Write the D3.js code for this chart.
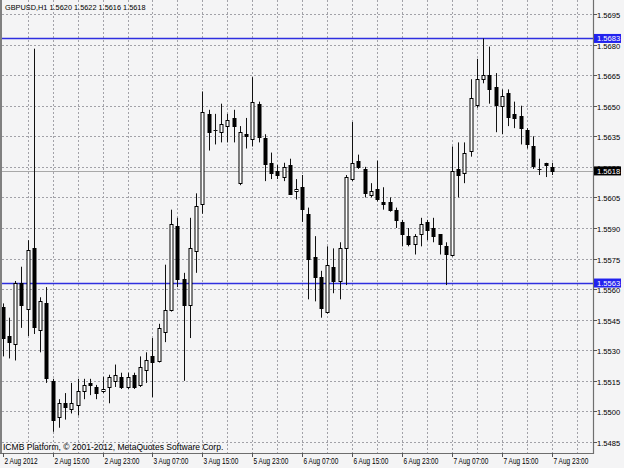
<!DOCTYPE html>
<html><head><meta charset="utf-8">
<script src="https://cdn.jsdelivr.net/npm/d3@7"></script>
<style>html,body{margin:0;padding:0;background:#f4f4f5;}svg{display:block;}</style>
</head><body>
<script>
const symbolTitle = "GBPUSD,H1  1.5620 1.5622 1.5616 1.5618";
const copyright = "ICMB Platform, © 2001-2012, MetaQuotes Software Corp.";
const opens  = [1.5551,1.5537,1.5533,1.5563,1.5550,1.5580,1.5540,1.5553,1.5515,1.5497,1.5504,1.5501,1.5503,1.5510,1.5514,1.5512,1.5510,1.5512,1.5515,1.5517,1.5512,1.5518,1.5513,1.5520,1.5527,1.5525,1.5539,1.5550,1.5591,1.5565,1.5552,1.5579,1.5602,1.5646,1.5638,1.5637,1.5640,1.5644,1.5612,1.5636,1.5634,1.5651,1.5634,1.5622,1.5618,1.5615,1.5621,1.5608,1.5610,1.5597,1.5576,1.5566,1.5549,1.5571,1.5564,1.5580,1.5614,1.5623,1.5619,1.5606,1.5609,1.5603,1.5603,1.5599,1.5593,1.5586,1.5582,1.5587,1.5593,1.5590,1.5587,1.5581,1.5577,1.5619,1.5617,1.5628,1.5650,1.5663,1.5665,1.5659,1.5650,1.5656,1.5646,1.5645,1.5638,1.5630,1.5619,1.5622,1.5620];
const highs  = [1.5553,1.5546,1.5564,1.5571,1.5584,1.5678,1.5556,1.5561,1.5516,1.5506,1.5509,1.5514,1.5516,1.5516,1.5516,1.5513,1.5517,1.5518,1.5523,1.5519,1.5519,1.5519,1.5527,1.5529,1.5536,1.5543,1.5572,1.5599,1.5595,1.5568,1.5595,1.5607,1.5657,1.5648,1.5646,1.5651,1.5646,1.5648,1.5640,1.5644,1.5664,1.5652,1.5636,1.5627,1.5621,1.5622,1.5624,1.5614,1.5616,1.5600,1.5586,1.5569,1.5581,1.5580,1.5583,1.5616,1.5642,1.5626,1.5620,1.5612,1.5623,1.5610,1.5605,1.5600,1.5594,1.5590,1.5587,1.5595,1.5594,1.5595,1.5587,1.5583,1.5630,1.5632,1.5632,1.5663,1.5673,1.5683,1.5679,1.5666,1.5658,1.5658,1.5652,1.5650,1.5639,1.5635,1.5624,1.5622,1.5622];
const lows   = [1.5527,1.5526,1.5525,1.5541,1.5537,1.5538,1.5529,1.5514,1.5490,1.5492,1.5496,1.5499,1.5498,1.5506,1.5508,1.5506,1.5509,1.5504,1.5512,1.5511,1.5511,1.5511,1.5512,1.5514,1.5507,1.5524,1.5534,1.5549,1.5561,1.5515,1.5536,1.5568,1.5597,1.5628,1.5631,1.5632,1.5632,1.5632,1.5611,1.5629,1.5630,1.5632,1.5613,1.5614,1.5614,1.5613,1.5607,1.5604,1.5593,1.5555,1.5554,1.5546,1.5548,1.5558,1.5555,1.5562,1.5613,1.5619,1.5605,1.5605,1.5603,1.5599,1.5598,1.5590,1.5581,1.5581,1.5577,1.5581,1.5584,1.5583,1.5577,1.5562,1.5576,1.5605,1.5612,1.5625,1.5649,1.5661,1.5651,1.5637,1.5636,1.5640,1.5639,1.5631,1.5629,1.5619,1.5616,1.5615,1.5616];
const closes = [1.5536,1.5534,1.5563,1.5552,1.5579,1.5541,1.5554,1.5516,1.5496,1.5504,1.5502,1.5504,1.5510,1.5513,1.5513,1.5509,1.5511,1.5517,1.5518,1.5512,1.5517,1.5512,1.5522,1.5525,1.5524,1.5541,1.5550,1.5592,1.5565,1.5552,1.5580,1.5601,1.5647,1.5637,1.5638,1.5641,1.5643,1.5640,1.5637,1.5635,1.5652,1.5635,1.5621,1.5617,1.5616,1.5620,1.5607,1.5609,1.5599,1.5575,1.5566,1.5551,1.5572,1.5564,1.5580,1.5615,1.5622,1.5620,1.5607,1.5608,1.5604,1.5602,1.5599,1.5594,1.5587,1.5582,1.5586,1.5592,1.5589,1.5586,1.5582,1.5577,1.5618,1.5616,1.5627,1.5654,1.5663,1.5665,1.5658,1.5650,1.5655,1.5644,1.5644,1.5639,1.5631,1.5620,1.5619,1.5621,1.5618];
const timeLabels = ["2 Aug 2012","2 Aug 15:00","2 Aug 23:00","3 Aug 07:00","3 Aug 15:00","5 Aug 23:00","6 Aug 07:00","6 Aug 15:00","6 Aug 23:00","7 Aug 07:00","7 Aug 15:00","7 Aug 23:00"];
const priceTicks = [1.5485,1.5500,1.5515,1.5530,1.5545,1.5560,1.5575,1.5590,1.5605,1.5620,1.5635,1.5650,1.5665,1.5680,1.5695];
const hLines = [1.5683,1.5563];
const bidPrice = 1.5618;

const W = 624, H = 468;
const left = 2, right = 593, bottom = 453;
const svg = d3.select("body").append("svg").attr("width", W).attr("height", H);
svg.append("rect").attr("width", W).attr("height", H).attr("fill", "#f4f4f5");

const n = opens.length;
const x = d3.scaleLinear().domain([0, 88]).range([2.7, 2.7 + 6.24 * 88]);
const y = d3.scaleLinear().domain([1.5485, 1.5695]).range([442, 14]);
const px = v => Math.round(v) + 0.5;

const FONT = "'Liberation Sans', Arial, sans-serif";
function txt(g, s, tx, ty, opts = {}) {
  return g.append("text").attr("transform", `translate(${tx},${ty}) scale(${opts.sx || 0.84},1)`)
    .attr("font-family", FONT).attr("font-size", opts.fs || 8).attr("fill", opts.fill || "#000")
    .attr("text-anchor", opts.anchor || "start").text(s);
}

svg.append("clipPath").attr("id", "c").append("rect")
  .attr("x", left).attr("y", 0).attr("width", right - left).attr("height", bottom);
const plot = svg.append("g").attr("clip-path", "url(#c)");

// grid
const grid = plot.append("g").attr("stroke", "#a2a2a8").attr("stroke-width", 1).attr("stroke-dasharray", "2,2");
priceTicks.forEach(p => grid.append("line").attr("x1", left).attr("x2", right).attr("y1", px(y(p))).attr("y2", px(y(p))));
d3.range(4, 96, 4).forEach(i => {
  const xx = px(x(i)); if (xx < right) grid.append("line").attr("x1", xx).attr("x2", xx).attr("y1", 0).attr("y2", bottom);
});

// horizontal lines
plot.append("line").attr("x1", left).attr("x2", right).attr("y1", px(y(bidPrice))).attr("y2", px(y(bidPrice)))
  .attr("stroke", "#a8a8a8").attr("stroke-width", 1);
hLines.forEach(p => plot.append("line").attr("x1", left).attr("x2", right).attr("y1", px(y(p))).attr("y2", px(y(p)))
  .attr("stroke", "#2f2fe0").attr("stroke-width", 1.3));

// candles
const cg = plot.append("g");
for (let i = 0; i < n; i++) {
  const cx = px(x(i));
  cg.append("line").attr("x1", cx).attr("x2", cx).attr("y1", y(highs[i])).attr("y2", y(lows[i]))
    .attr("stroke", "#111").attr("stroke-width", 1);
  const top = Math.min(y(opens[i]), y(closes[i])), bot = Math.max(y(opens[i]), y(closes[i]));
  const bull = closes[i] >= opens[i];
  if (bot - top < 1) {
    cg.append("line").attr("x1", cx - 2).attr("x2", cx + 2).attr("y1", px(top)).attr("y2", px(top)).attr("stroke", "#111");
  } else {
    cg.append("rect").attr("x", cx - 1.5).attr("width", 3).attr("y", Math.round(top) + 0.5).attr("height", Math.max(1, Math.round(bot - top)))
      .attr("fill", bull ? "#ffffff" : "#000").attr("stroke", "#000").attr("stroke-width", 1);
  }
}

// frame
svg.append("line").attr("x1", 1).attr("x2", 1).attr("y1", 0).attr("y2", bottom).attr("stroke", "#808080").attr("stroke-width", 2);
svg.append("line").attr("x1", right + 0.5).attr("x2", right + 0.5).attr("y1", 0).attr("y2", bottom + 1).attr("stroke", "#6e6e6e").attr("stroke-width", 1.2);
svg.append("line").attr("x1", 0).attr("x2", right + 1).attr("y1", bottom + 0.5).attr("y2", bottom + 0.5).attr("stroke", "#6e6e6e").attr("stroke-width", 1.2);

// price axis
const ax = svg.append("g");
priceTicks.forEach(p => {
  const yy = px(y(p));
  ax.append("line").attr("x1", right).attr("x2", right + 4).attr("y1", yy).attr("y2", yy).attr("stroke", "#555");
  txt(ax, p.toFixed(4), 597, yy + 3, { sx: 0.95 });
});
function priceBox(p, fill) {
  const yy = y(p);
  ax.append("rect").attr("x", 594).attr("y", yy - 4.5).attr("width", 27).attr("height", 9).attr("fill", fill);
  txt(ax, p.toFixed(4), 597, yy + 3, { sx: 0.95, fill: "#fff" });
}
hLines.forEach(p => priceBox(p, "#2222ee"));
priceBox(bidPrice, "#000");

// time axis
timeLabels.forEach((s, k) => {
  const xx = px(x(k * 8));
  ax.append("line").attr("x1", xx).attr("x2", xx).attr("y1", bottom).attr("y2", bottom + 4).attr("stroke", "#555");
  txt(ax, s, xx + 1, 464, { sx: 0.76, fs: 8.6 });
});

// titles
txt(svg, symbolTitle, 5, 10, { sx: 0.92 });
txt(svg, copyright, 3, 450, { sx: 0.95, fs: 9 });
</script>
</body></html>
